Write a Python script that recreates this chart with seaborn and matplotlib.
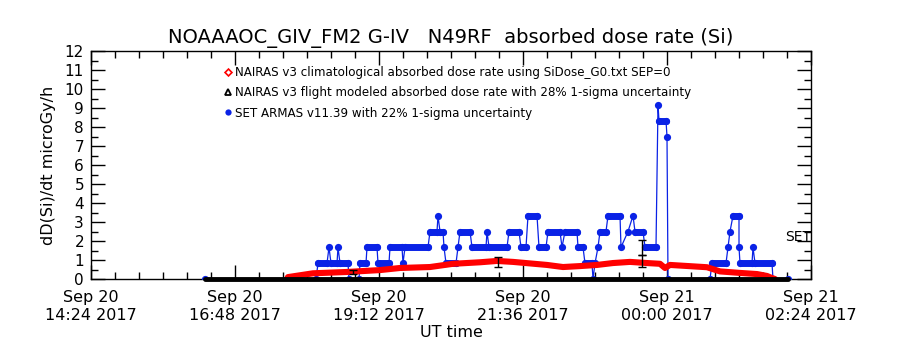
import numpy as np
import pandas as pd
import matplotlib
matplotlib.use("Agg")
import matplotlib.pyplot as plt
import seaborn as sns
from matplotlib.ticker import MultipleLocator, FixedLocator
from matplotlib.lines import Line2D

sns.set_theme(style="ticks")
plt.rcParams['font.family'] = ['DejaVu Sans']
plt.rcParams.update({"text.color": "black", "axes.labelcolor": "black",
                     "xtick.color": "black", "ytick.color": "black"})

# time axis: minutes after 2017-09-20 14:24 UT
tick_minutes = [0, 144, 288, 432, 576, 720]
tick_labels = ["Sep 20\n14:24 2017", "Sep 20\n16:48 2017", "Sep 20\n19:12 2017",
               "Sep 20\n21:36 2017", "Sep 21\n00:00 2017", "Sep 21\n02:24 2017"]

# NAIRAS v3 climatological absorbed dose rate (red)
clim_t = [196, 197, 222, 256, 289, 309, 339, 362, 389, 406, 422, 456, 472, 489,
          506, 522, 539, 556, 569, 574, 579, 616, 629, 649, 666, 676, 681, 684]
clim_v = [0.0, 0.1, 0.3, 0.37, 0.47, 0.58, 0.63, 0.8, 0.88, 0.95, 0.9, 0.74, 0.63, 0.68,
          0.74, 0.84, 0.9, 0.84, 0.8, 0.58, 0.74, 0.62, 0.4, 0.32, 0.26, 0.16, 0.05, 0.0]

# NAIRAS v3 flight modeled absorbed dose rate (black)
model_t = [114, 697]
model_v = [0.0, 0.0]
err_t = [262, 407, 551, 551]
err_v = [0.37, 0.9, 1.65, 0.95]
err_e = [0.1, 0.26, 0.4, 0.32]

# SET ARMAS v11.39 (blue)
set_t = [114, 225, 227, 236, 238, 240, 246, 247, 249, 257, 258, 268, 269, 275, 276, 286,
         287, 298, 299, 311, 312, 314, 337, 339, 346, 347, 349, 352, 353, 355, 365, 367,
         369, 379, 381, 395, 396, 398, 416, 418, 428, 430, 435, 437, 446, 448, 455, 457,
         469, 471, 474, 486, 487, 492, 494, 501, 502, 504, 507, 509, 515, 517, 529, 530,
         537, 542, 544, 552, 554, 565, 567, 568, 575, 576, 577, 619, 621, 635, 637, 639,
         642, 648, 648, 649, 661, 662, 664, 681, 682, 697]
set_v = [0, 0, 0.83, 0.83, 1.67, 0.83, 0.83, 1.67, 0.83, 0.83, 0, 0, 0.83, 0.83, 1.67, 1.67,
         0.83, 0.83, 1.67, 1.67, 0.83, 1.67, 1.67, 2.5, 2.5, 3.33, 2.5, 2.5, 1.67, 0.83, 0.83, 1.67,
         2.5, 2.5, 1.67, 1.67, 2.5, 1.67, 1.67, 2.5, 2.5, 1.67, 1.67, 3.33, 3.33, 1.67, 1.67, 2.5,
         2.5, 1.67, 2.5, 2.5, 1.67, 1.67, 0.83, 0.83, 0, 0.83, 1.67, 2.5, 2.5, 3.33, 3.33, 1.67,
         2.5, 3.33, 2.5, 2.5, 1.67, 1.67, 9.17, 8.33, 8.33, 7.5, 0, 0, 0.83, 0.83, 1.67, 2.5,
         3.33, 3.33, 1.67, 0.83, 0.83, 1.67, 0.83, 0.83, 0, 0]

legend_labels = ["NAIRAS v3 climatological absorbed dose rate using SiDose_G0.txt SEP=0",
                 "NAIRAS v3 flight modeled absorbed dose rate with 28% 1-sigma uncertainty",
                 "SET ARMAS v11.39 with 22% 1-sigma uncertainty"]
title = "NOAAAOC_GIV_FM2 G-IV   N49RF  absorbed dose rate (Si)"

RED = "#ff0000"
BLUE = "#0a22e6"

fig = plt.figure(figsize=(9, 3.5), dpi=100)
ax = fig.add_axes([91/900, 1-279/350, 720/900, 228/350])

# blue series: thin connecting line + markers
set_df = pd.DataFrame({"t": set_t, "v": set_v})
sns.lineplot(data=set_df, x="t", y="v", sort=False, estimator=None, ax=ax,
             color=BLUE, lw=0.9, marker="o", markersize=5.2, markeredgewidth=0,
             markerfacecolor=BLUE, zorder=3)
# bands where consecutive samples stay on the same level
for i in range(len(set_t) - 1):
    if set_v[i] == set_v[i+1] and set_v[i] > 0:
        ax.plot([set_t[i], set_t[i+1]], [set_v[i], set_v[i]], color=BLUE, lw=5,
                solid_capstyle="round", zorder=3)

# red climatology
clim_df = pd.DataFrame({"t": clim_t, "v": clim_v})
sns.lineplot(data=clim_df, x="t", y="v", sort=False, estimator=None, ax=ax,
             color=RED, lw=4.4, zorder=4)

# black flight model
model_df = pd.DataFrame({"t": model_t, "v": model_v})
sns.lineplot(data=model_df, x="t", y="v", sort=False, estimator=None, ax=ax,
             color="black", lw=3.5, zorder=5)
ax.lines[-1].set_clip_on(False)
ax.errorbar(err_t, err_v, yerr=err_e, fmt="none", ecolor="black", elinewidth=1,
            capsize=3, capthick=1, zorder=6)

ax.text(694, 2.2, "SET", fontsize=10, ha="left", va="center", zorder=7, clip_on=True)

ax.set_xlim(0, 720)
ax.set_ylim(0, 12)
ax.xaxis.set_major_locator(FixedLocator(tick_minutes))
ax.set_xticklabels(tick_labels)
ax.xaxis.set_minor_locator(MultipleLocator(24))
ax.yaxis.set_major_locator(MultipleLocator(1))
ax.yaxis.set_minor_locator(MultipleLocator(0.5))
ax.tick_params(which="both", direction="in", top=True, right=True, colors="black")
ax.tick_params(which="major", length=10, width=1)
ax.tick_params(which="minor", length=5, width=1)
ax.tick_params(axis="x", which="major", pad=8, labelsize=11.5)
ax.tick_params(axis="y", which="major", pad=5, labelsize=11)
for s in ax.spines.values():
    s.set_color("black")
    s.set_linewidth(1)
ax.set_xlabel("UT time", fontsize=11.5, labelpad=2)
ax.set_ylabel("dD(Si)/dt microGy/h", fontsize=11.5, labelpad=6)
ax.grid(False)

handles = [Line2D([], [], ls="none", marker="D", markersize=3.5, markerfacecolor="white",
                  markeredgecolor=RED, markeredgewidth=1.2),
           Line2D([], [], ls="none", marker="^", markersize=4.5, markerfacecolor="white",
                  markeredgecolor="black", markeredgewidth=1.3),
           Line2D([], [], ls="none", marker="o", markersize=4.5, markerfacecolor=BLUE,
                  markeredgewidth=0)]
leg = ax.legend(handles, legend_labels, loc="upper left", bbox_to_anchor=(0.185, 0.935),
                frameon=False, fontsize=8.6, handlelength=0.6, handletextpad=0.3,
                labelspacing=0.62, borderaxespad=0, borderpad=0, labelcolor="black")

fig.text(0.501, 1-38/350, title, fontsize=14, ha="center", va="center", color="black")

fig.savefig("out.png", dpi=100)
